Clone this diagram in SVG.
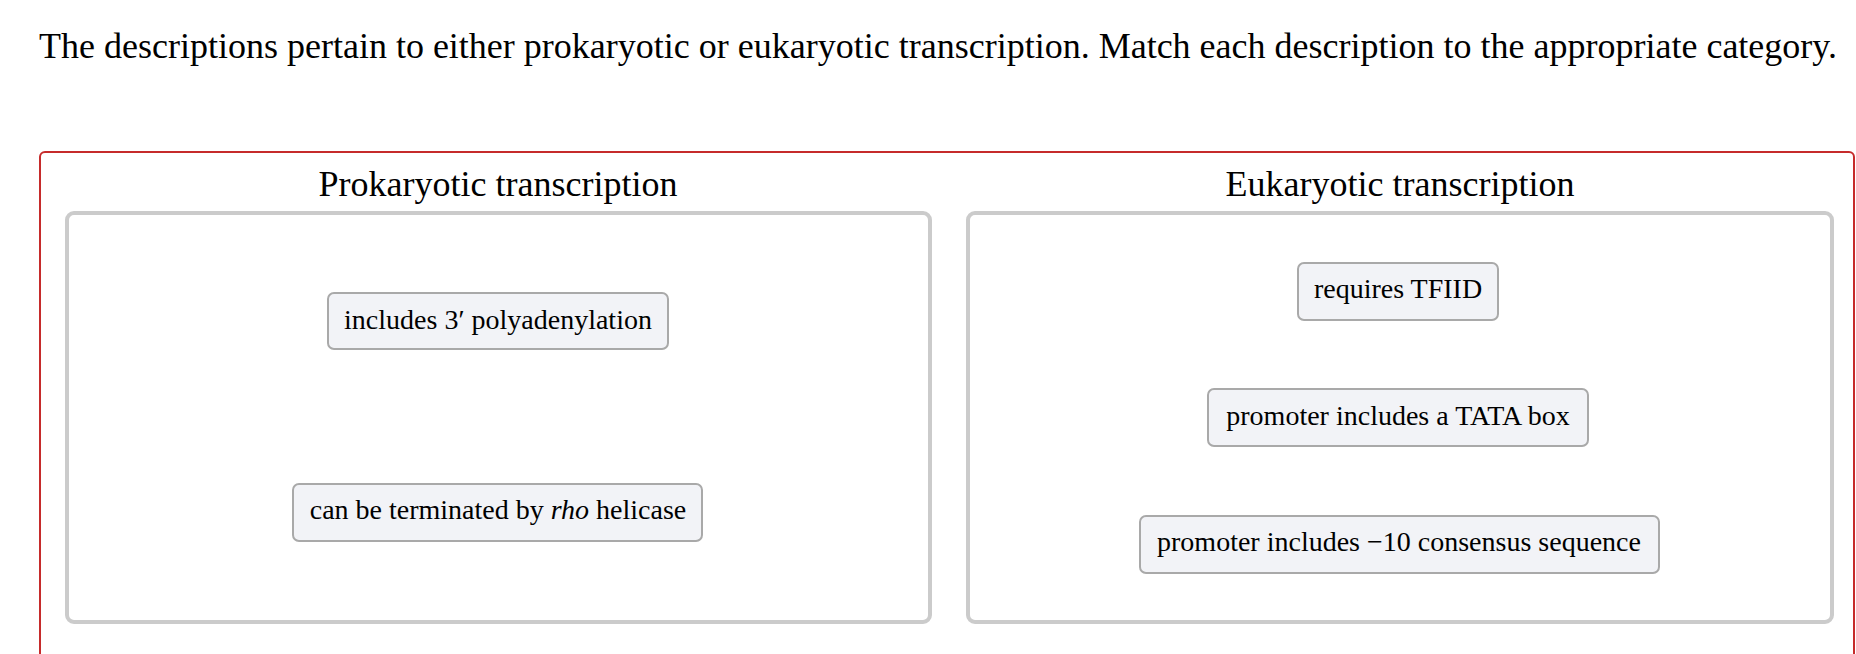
<svg xmlns="http://www.w3.org/2000/svg" width="1856" height="654" viewBox="0 0 1856 654">
<style>
text{font-family:"Liberation Serif","Times New Roman",serif;fill:#000}
.q{font-size:36px}
.h{font-size:36px;text-anchor:middle}
.t{font-size:28px;text-anchor:middle}
.zone{fill:#fff;stroke:#cbcbcb;stroke-width:4}
.card{fill:#f2f3f7;stroke:#a9a9a9;stroke-width:2}
</style>
<rect width="1856" height="654" fill="#fff"/>
<text class="q" x="39" y="58">The descriptions pertain to either prokaryotic or eukaryotic transcription. Match each description to the appropriate category.</text>
<rect x="40" y="152" width="1814" height="560" rx="5" fill="none" stroke="#c62b2b" stroke-width="2"/>
<g id="prokaryotic">
<text class="h" x="498" y="196">Prokaryotic transcription</text>
<rect class="zone" x="67" y="213" width="863" height="409" rx="7"/>
</g>
<g id="eukaryotic">
<text class="h" x="1400" y="196">Eukaryotic transcription</text>
<rect class="zone" x="968" y="213" width="864" height="409" rx="7"/>
</g>
<g id="connectors"></g>
<g id="n1">
<rect class="card" x="328" y="293" width="340" height="56" rx="6"/>
<text class="t" x="498" y="329">includes 3′ polyadenylation</text>
</g>
<g id="n2">
<rect class="card" x="293" y="484" width="409" height="57" rx="6"/>
<text class="t" x="498" y="519">can be terminated by <tspan font-style="italic">rho</tspan> helicase</text>
</g>
<g id="n3">
<rect class="card" x="1298" y="263" width="200" height="57" rx="6"/>
<text class="t" x="1398" y="298">requires TFIID</text>
</g>
<g id="n4">
<rect class="card" x="1208" y="389" width="380" height="57" rx="6"/>
<text class="t" x="1398" y="425">promoter includes a TATA box</text>
</g>
<g id="n5">
<rect class="card" x="1140" y="516" width="519" height="57" rx="6"/>
<text class="t" x="1399" y="551">promoter includes −10 consensus sequence</text>
</g>
</svg>
